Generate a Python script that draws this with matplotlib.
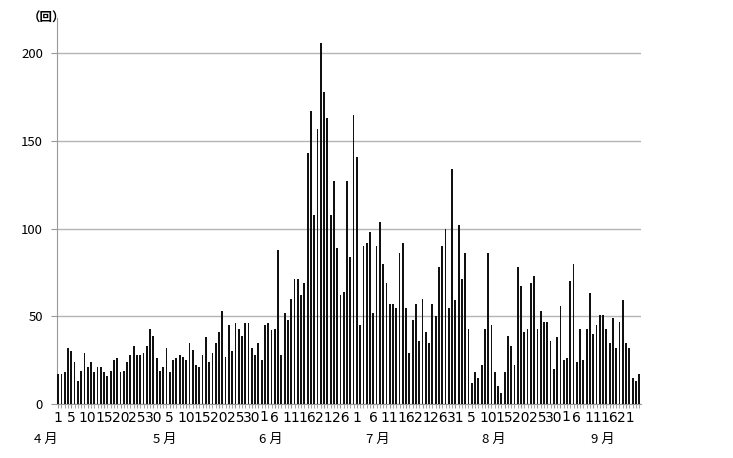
import numpy as np
import matplotlib
matplotlib.use('Agg')
from matplotlib import pyplot as plt
from matplotlib.transforms import offset_copy

plt.rcParams['font.family'] = ['Noto Sans CJK JP', 'DejaVu Sans']

# daily counts, Apr 1 .. Sep 25
apr = [17, 17, 18, 32, 30, 24, 13, 19, 29, 21, 24, 18, 21, 21, 18,
       16, 19, 25, 26, 18, 19, 24, 28, 33, 28, 28, 29, 33, 43, 39]
may = [26, 19, 21, 32, 18, 25, 26, 28, 27, 25, 35, 31, 22, 21, 28, 38,
       24, 29, 35, 41, 53, 27, 45, 30, 46, 43, 39, 46, 46, 32, 28]
jun = [35, 25, 45, 46, 42, 43, 88, 28, 52, 48, 60, 71, 71, 62, 69,
       143, 167, 108, 157, 206, 178, 163, 108, 127, 89, 62, 64, 127, 84, 165]
jul = [141, 45, 90, 92, 98, 52, 90, 104, 80, 69, 57, 57, 55, 86, 92, 55,
       29, 48, 57, 36, 60, 41, 35, 57, 50, 78, 90, 100, 55, 134, 59]
aug = [102, 71, 86, 43, 12, 18, 15, 22, 43, 86, 45, 18, 10, 6, 18, 39,
       33, 22, 78, 67, 41, 43, 69, 73, 43, 53, 47, 47, 36, 20, 38]
sep = [56, 25, 26, 70, 80, 24, 43, 25, 43, 63, 40, 45, 51, 51, 43,
       35, 49, 32, 47, 59, 35, 32, 15, 13, 17]

months = ['4 月', '5 月', '6 月', '7 月', '8 月', '9 月']
month_days = [apr, may, jun, jul, aug, sep]
# which day numbers get a tick label in each month
day_labels = [[1, 5, 10, 15, 20, 25, 30],
              [5, 10, 15, 20, 25, 30],
              [1, 6, 11, 16, 21, 26],
              [1, 6, 11, 16, 21, 26, 31],
              [5, 10, 15, 20, 25, 30],
              [1, 6, 11, 16, 21]]
yticks = [0, 50, 100, 150, 200]

values = np.concatenate(month_days)
x = np.arange(1, len(values) + 1)

# positions of labels on the category axis
starts = np.cumsum([0] + [len(m) for m in month_days[:-1]])
tick_pos, tick_lab = [], []
for s, days in zip(starts, day_labels):
    for d in days:
        tick_pos.append(s + d)
        tick_lab.append(str(d))
month_pos = [-2.8, 33.5, 65.8, 98.4, 133.8, 167.0]

fig = plt.figure(figsize=(7.33, 4.58), dpi=100)
ax = fig.add_axes([57/733, 1 - 404/458, (641 - 57)/733, (404 - 18)/458])

ax.bar(x, values, width=0.55, color='#111111', zorder=3)

ax.set_xlim(0.65, len(values) + 0.55)
ax.set_ylim(0, 220)
ax.set_yticks(yticks)
ax.yaxis.grid(True, color='#b4b4b4', linewidth=1.0)
ax.set_axisbelow(True)

narrow = ['Liberation Sans Narrow', 'DejaVu Sans']
tr = ax.get_xaxis_transform()

# "30" and "1" only two days apart: draw such a "1" a bit to the right
shown = list(tick_lab)
for i in range(1, len(tick_pos)):
    if tick_pos[i] - tick_pos[i - 1] < 3:
        ax.text(tick_pos[i], 0, tick_lab[i], ha='left', va='top',
                fontsize=10, family=narrow,
                transform=offset_copy(tr, fig=fig, x=1.5, y=-5.8,
                                      units='dots'))
        shown[i] = ''

ax.set_xticks(x, minor=True)
ax.set_xticks(tick_pos, shown)
ax.tick_params(axis='x', which='both', length=3, color='#999999', pad=2,
               labelsize=10)
ax.tick_params(axis='y', length=4, color='#999999', pad=6, labelsize=9.5)
for lab in ax.get_xticklabels():
    lab.set_family(narrow)

for sp in ['top', 'right']:
    ax.spines[sp].set_visible(False)
for sp in ['left', 'bottom']:
    ax.spines[sp].set_color('#999999')

for p, m in zip(month_pos, months):
    ax.text(p, -0.093, m, transform=tr, ha='center', va='center', fontsize=9.5)

fig.text(47/733, 1 - 18/458, '（回）', ha='center', va='center', fontsize=9,
         fontweight='bold')

fig.savefig('out.png', dpi=100)
